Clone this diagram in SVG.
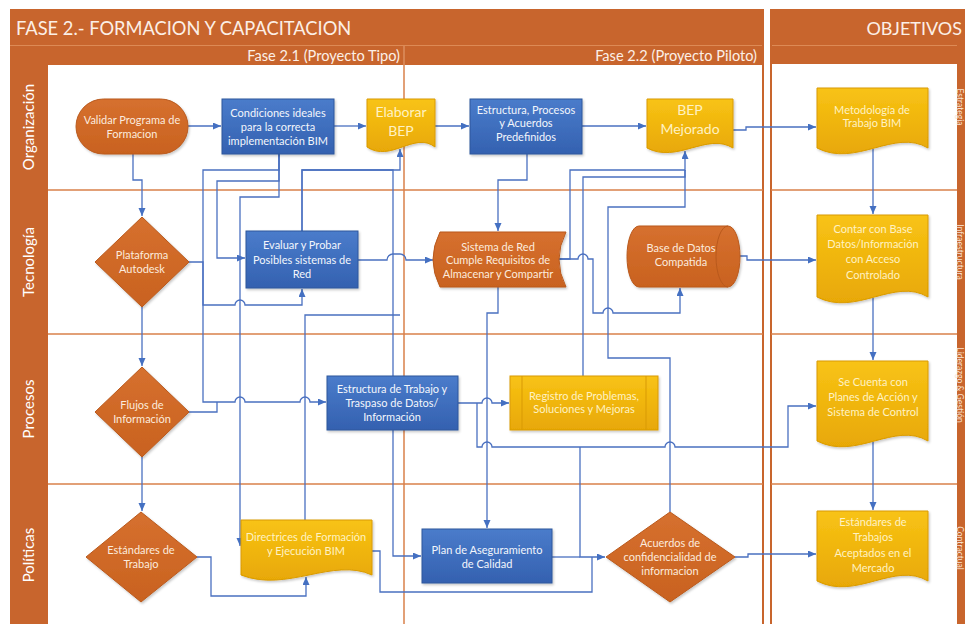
<svg xmlns="http://www.w3.org/2000/svg" width="965" height="624" viewBox="0 0 965 624">
<defs>
  <linearGradient id="gBlue" x1="0" y1="0" x2="0" y2="1">
    <stop offset="0" stop-color="#4A7CCB"/><stop offset="1" stop-color="#3461B0"/>
  </linearGradient>
  <linearGradient id="gYel" x1="0" y1="0" x2="0" y2="1">
    <stop offset="0" stop-color="#F8C315"/><stop offset="1" stop-color="#E8A806"/>
  </linearGradient>
  <linearGradient id="gOr" x1="0" y1="0" x2="0" y2="1">
    <stop offset="0" stop-color="#D6702F"/><stop offset="1" stop-color="#C9621F"/>
  </linearGradient>
  <marker id="arr" markerWidth="9" markerHeight="8" refX="8" refY="3.5" orient="auto" markerUnits="userSpaceOnUse">
    <path d="M0,0 L8,3.5 L0,7 Z" fill="#4470C2"/>
  </marker>
  <filter id="sh" x="-10%" y="-10%" width="130%" height="135%">
    <feDropShadow dx="1.2" dy="1.6" stdDeviation="1.2" flood-color="#000" flood-opacity="0.22"/>
  </filter>
</defs>
<style>
  text{font-family:Lato,"Open Sans","Liberation Sans",sans-serif}
  .hdr{fill:#C8652D}
  .lane{stroke:#D9814A;stroke-width:1.5;fill:none}
  .frame{stroke:#C8652D;stroke-width:2;fill:none}
  .c{fill:none;stroke:#4A70C0;stroke-width:1.3}
  .a{marker-end:url(#arr)}
  .t{font-size:11px;text-anchor:middle}
  .tl{font-size:11px;text-anchor:middle}
  .big{font-size:14px;text-anchor:middle}
  .tw{fill:#F3F6FC}
  .ty{fill:#FFF2C2}
  .to{fill:#FCEBDD}
  .blue{fill:url(#gBlue);stroke:#2E569C;stroke-width:1;filter:url(#sh)}
  .yel{fill:url(#gYel);stroke:#D99A05;stroke-width:1;filter:url(#sh)}
  .org{fill:url(#gOr);stroke:#B9591C;stroke-width:1;filter:url(#sh)}
  .lbl{font-size:15px;fill:#FFFFFF;text-anchor:middle}
  .side{font-size:8.5px;fill:#F8E1D0;text-anchor:middle}
</style>

<!-- background -->
<rect width="965" height="624" fill="#FFFFFF"/>

<!-- main pool: FASE 2 -->
<g id="pool-fase2">
  <rect class="hdr" x="10" y="9" width="754" height="56"/>
  <line x1="10" y1="45.5" x2="764" y2="45.5" stroke="#DD8A55" stroke-width="1"/>
  <rect class="hdr" x="10" y="65" width="38" height="559"/>
  <line class="frame" x1="763" y1="9" x2="763" y2="624"/>
  <line x1="404" y1="46" x2="404" y2="65" stroke="#E6A478" stroke-width="1"/>
  <line class="lane" x1="404" y1="65" x2="404" y2="624"/>
  <line class="lane" x1="48" y1="190" x2="763" y2="190"/>
  <line class="lane" x1="48" y1="334" x2="763" y2="334"/>
  <line class="lane" x1="48" y1="484" x2="763" y2="484"/>
  <text x="16" y="35" font-size="18.3" fill="#FCEFE6">FASE 2.- FORMACION Y CAPACITACION</text>
  <text x="400" y="61" font-size="14.6" fill="#FCEFE6" text-anchor="end">Fase 2.1 (Proyecto Tipo)</text>
  <text x="757" y="61" font-size="14.6" fill="#FCEFE6" text-anchor="end">Fase 2.2 (Proyecto Piloto)</text>
  <text class="lbl" transform="translate(34,127) rotate(-90)">Organización</text>
  <text class="lbl" transform="translate(34,262) rotate(-90)">Tecnología</text>
  <text class="lbl" transform="translate(34,409) rotate(-90)">Procesos</text>
  <text class="lbl" transform="translate(34,555) rotate(-90)">Políticas</text>
</g>

<!-- objectives pool -->
<g id="pool-objetivos">
  <rect class="hdr" x="770" y="9" width="195" height="55"/>
  <line x1="770" y1="45.5" x2="965" y2="45.5" stroke="#DD8A55" stroke-width="1"/>
  <rect class="hdr" x="957" y="45" width="8" height="579"/>
  <line class="frame" x1="771" y1="9" x2="771" y2="624"/>
  <line class="lane" x1="771" y1="190" x2="957" y2="190"/>
  <line class="lane" x1="771" y1="334" x2="957" y2="334"/>
  <line class="lane" x1="771" y1="484" x2="957" y2="484"/>
  <text x="962" y="35" font-size="18" fill="#FCEFE6" text-anchor="end">OBJETIVOS</text>
  <text class="side" transform="translate(956.5,107) rotate(90)">Estrategia</text>
  <text class="side" transform="translate(956.5,252) rotate(90)">Infraestructura</text>
  <text class="side" transform="translate(956.5,385) rotate(90)">Liderazgo &amp; Gestión</text>
  <text class="side" transform="translate(956.5,548) rotate(90)">Contractual</text>
</g>

<!-- connectors -->
<g id="connectors">
  <path class="c a" d="M188,126 H221"/>
  <path class="c a" d="M334,126 H366"/>
  <path class="c a" d="M435,126 H469"/>
  <path class="c a" d="M582,126 H646"/>
  <path class="c a" d="M733,130 H746 V127 H816"/>
  <path class="c a" d="M133,154 V180 H142 V216"/>
  <path class="c a" d="M142,307 V366"/>
  <path class="c a" d="M142,457 V511"/>
  <path class="c a" d="M279,154 V181 H217 V258 H245"/>
  <path class="c a" d="M279,154 V170 H203 V402 H235 A5,5 0 0 1 245,402 H300 A5,5 0 0 1 310,402 H326"/>
  <path class="c" d="M189,412 H217 V402"/>
  <path class="c a" d="M189,262 H203 V305 H235 A5,5 0 0 1 245,305 H302 V289"/>
  <path class="c a" d="M279,154 V197 H240 V546"/>
  <path class="c a" d="M302,231 V170 H400 V149"/>
  <path class="c a" d="M302,231 V170 H393 V556 H421"/>
  <path class="c" d="M305,520 V315 H400"/>
  <path class="c a" d="M358,260 H387 A6,6 0 0 1 393,254 H400 A6,6 0 0 1 406,260 H433"/>
  <path class="c a" d="M527,154 V180 H498 V231"/>
  <path class="c a" d="M559,259 H570 V170 H685 V151"/>
  <path class="c a" d="M559,259 H578 A5,5 0 0 1 588,259 H593 V313 H603 A5,5 0 0 1 613,313 H680 V288"/>
  <path class="c" d="M583,376 V177 H685 V170"/>
  <path class="c" d="M670,512 V358 H608 V207 H685 V170"/>
  <path class="c a" d="M498,287 V313 H487 V528"/>
  <path class="c a" d="M458,403 H482 A5,5 0 0 1 492,403 H509"/>
  <path class="c a" d="M477,403 V447 H482 A5,5 0 0 1 492,447 H665 A5,5 0 0 1 675,447 H788 V406 H816"/>
  <path class="c a" d="M580,447 V557 H605"/>
  <path class="c" d="M552,557 H580"/>
  <path class="c" d="M372,551 H380 V592 H592 V557"/>
  <path class="c a" d="M735,557 H748 V554 H816"/>
  <path class="c a" d="M740,256 H747 V260 H816"/>
  <path class="c a" d="M873,149 V214"/>
  <path class="c a" d="M873,298 V360"/>
  <path class="c a" d="M873,442 V510"/>
  <path class="c a" d="M197,557 H211 V596 H306 V577"/>
</g>

<!-- Organización -->
<g id="validar-programa">
  <rect class="org" x="76" y="99" width="112" height="55" rx="27.5"/>
  <text class="t to" x="132" y="124">Validar Programa de</text>
  <text class="t to" x="132" y="138">Formacion</text>
</g>
<g id="condiciones-ideales">
  <rect class="blue" x="222" y="99" width="112" height="55"/>
  <text class="tl tw" x="278" y="117">Condiciones ideales</text>
  <text class="tl tw" x="278" y="131">para la correcta</text>
  <text class="tl tw" x="278" y="145">implementación BIM</text>
</g>
<g id="elaborar-bep">
  <path class="yel" d="M367,99 H435 V147 C414.6,131 390.8,163 367,147 Z"/>
  <text class="big ty" x="401" y="117">Elaborar</text>
  <text class="big ty" x="401" y="136">BEP</text>
</g>
<g id="estructura-procesos">
  <rect class="blue" x="470" y="99" width="112" height="55"/>
  <text class="t tw" x="526" y="114">Estructura, Procesos</text>
  <text class="t tw" x="526" y="127">y Acuerdos</text>
  <text class="t tw" x="526" y="141">Predefinidos</text>
</g>
<g id="bep-mejorado">
  <path class="yel" d="M647,99 H733 V148 C707.2,132 677.1,164 647,148 Z"/>
  <text class="big ty" x="690" y="115">BEP</text>
  <text class="big ty" x="690" y="134">Mejorado</text>
</g>
<g id="metodologia-bim">
  <path class="yel" d="M817,88 H928 V148 C894.7,128 855.9,168 817,148 Z"/>
  <text class="tl ty" x="872" y="114">Metodología de</text>
  <text class="tl ty" x="872" y="127">Trabajo BIM</text>
</g>

<!-- Tecnología -->
<g id="plataforma-autodesk">
  <path class="org" d="M142,217 L189,262 L142,307 L95,262 Z"/>
  <text class="t to" x="142" y="259">Plataforma</text>
  <text class="t to" x="142" y="273">Autodesk</text>
</g>
<g id="evaluar-probar">
  <rect class="blue" x="246" y="231" width="112" height="57"/>
  <text class="tl tw" x="302" y="249">Evaluar  y Probar</text>
  <text class="tl tw" x="302" y="264">Posibles sistemas  de</text>
  <text class="tl tw" x="302" y="278">Red</text>
</g>
<g id="sistema-red">
  <path class="org" d="M440,232 H566 Q552,259.5 566,287 H440 Q426,259.5 440,232 Z"/>
  <text class="t to" x="498" y="251">Sistema de Red</text>
  <text class="t to" x="498" y="264">Cumple Requisitos de</text>
  <text class="t to" x="498" y="278">Almacenar y Compartir</text>
</g>
<g id="base-datos">
  <path class="org" d="M639,226 H728 A12,30.5 0 0 1 728,287 H639 A12,30.5 0 0 1 639,226 Z"/>
  <path d="M728,226 A12,30.5 0 0 0 728,287" fill="none" stroke="#B9591C" stroke-width="1"/>
  <text class="t to" x="681" y="252">Base de Datos</text>
  <text class="t to" x="681" y="266">Compatida</text>
</g>
<g id="contar-base-datos">
  <path class="yel" d="M817,215 H928 V297 C894.7,277 855.9,317 817,297 Z"/>
  <text class="tl ty" x="873" y="233">Contar con Base</text>
  <text class="tl ty" x="873" y="248">Datos/Información</text>
  <text class="tl ty" x="873" y="263">con Acceso</text>
  <text class="tl ty" x="873" y="279">Controlado</text>
</g>

<!-- Procesos -->
<g id="flujos-informacion">
  <path class="org" d="M142,367 L189,412 L142,457 L95,412 Z"/>
  <text class="t to" x="142" y="409">Flujos de</text>
  <text class="t to" x="142" y="423">Información</text>
</g>
<g id="estructura-trabajo">
  <rect class="blue" x="327" y="376" width="131" height="54"/>
  <text class="t tw" x="392" y="393">Estructura de Trabajo y</text>
  <text class="t tw" x="392" y="407">Traspaso de Datos/</text>
  <text class="t tw" x="392" y="421">Información</text>
</g>
<g id="registro-problemas">
  <rect class="yel" x="510" y="376" width="148" height="54"/>
  <line x1="522" y1="376" x2="522" y2="430" stroke="#D99A05" stroke-width="1"/>
  <line x1="646" y1="376" x2="646" y2="430" stroke="#D99A05" stroke-width="1"/>
  <text class="t ty" x="584" y="400">Registro de Problemas,</text>
  <text class="t ty" x="584" y="413">Soluciones y Mejoras</text>
</g>
<g id="planes-accion">
  <path class="yel" d="M817,361 H928 V441 C894.7,421 855.9,461 817,441 Z"/>
  <text class="tl ty" x="873" y="386">Se Cuenta con</text>
  <text class="tl ty" x="873" y="401">Planes de Acción y</text>
  <text class="tl ty" x="873" y="416">Sistema de Control</text>
</g>

<!-- Políticas -->
<g id="estandares-trabajo">
  <path class="org" d="M141,512 L197,557 L141,602 L86,557 Z"/>
  <text class="t to" x="141" y="554">Estándares de</text>
  <text class="t to" x="141" y="568">Trabajo</text>
</g>
<g id="directrices">
  <path class="yel" d="M241,520 H372 V575 C332.7,557 286.85,593 241,575 Z"/>
  <text class="t ty" x="306" y="541">Directrices de Formación</text>
  <text class="t ty" x="306" y="555">y Ejecución BIM</text>
</g>
<g id="plan-aseguramiento">
  <rect class="blue" x="422" y="529" width="130" height="54"/>
  <text class="t tw" x="487" y="554">Plan de Aseguramiento</text>
  <text class="t tw" x="487" y="568">de  Calidad</text>
</g>
<g id="acuerdos-confidencialidad">
  <path class="org" d="M670,512 L735,557 L670,602 L606,557 Z"/>
  <text class="t to" x="670" y="547">Acuerdos de</text>
  <text class="t to" x="670" y="561">confidencialidad de</text>
  <text class="t to" x="670" y="575">informacion</text>
</g>
<g id="estandares-aceptados">
  <path class="yel" d="M817,511 H928 V581 C894.7,561 855.9,601 817,581 Z"/>
  <text class="tl ty" x="873" y="526">Estándares de</text>
  <text class="tl ty" x="873" y="541">Trabajos</text>
  <text class="tl ty" x="873" y="557">Aceptados en el</text>
  <text class="tl ty" x="873" y="572">Mercado</text>
</g>
</svg>
